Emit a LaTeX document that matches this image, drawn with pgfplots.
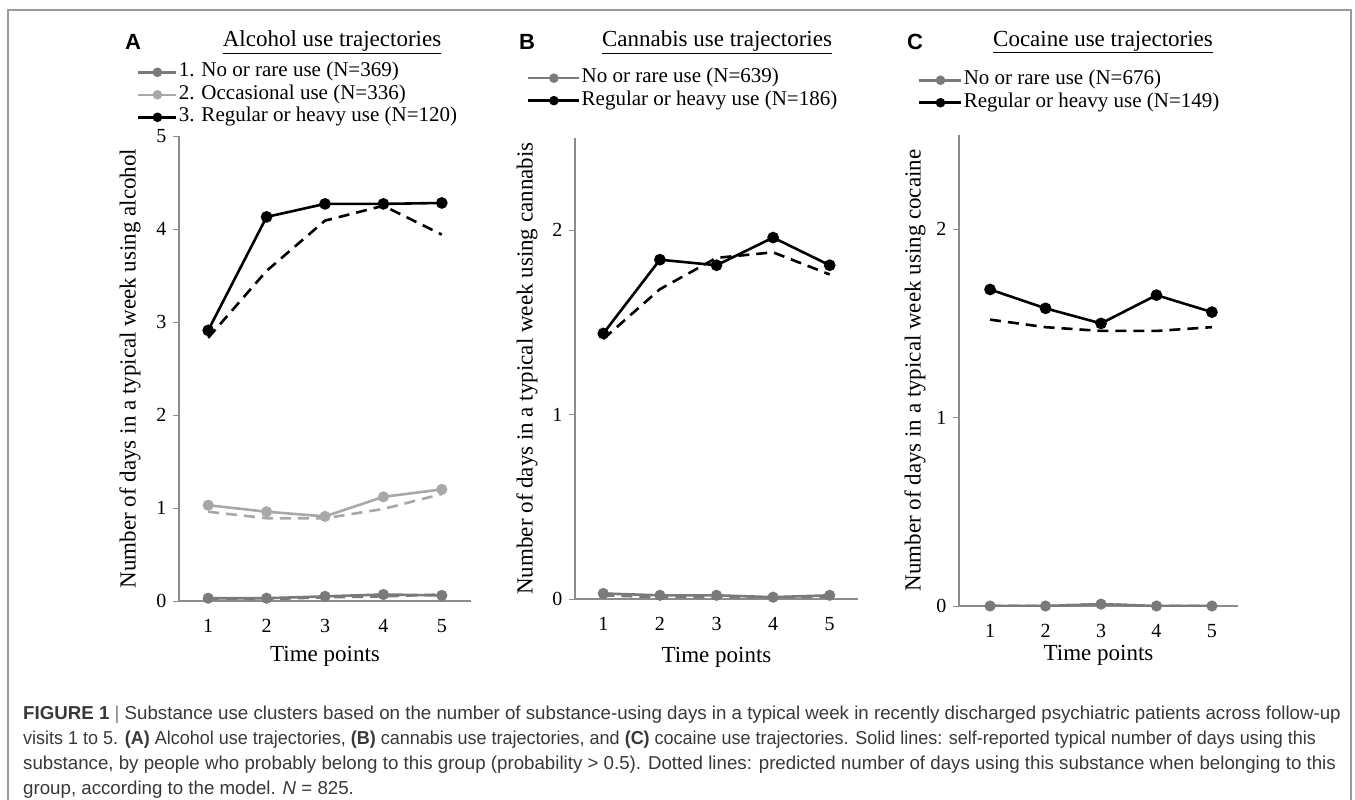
\documentclass[border=0pt]{standalone}
\usepackage{fontspec}
\setmainfont{Liberation Serif}
\newfontfamily\sansf{Liberation Sans}
\usepackage{pgfplots}
\pgfplotsset{compat=1.18}
\definecolor{rare}{HTML}{7A7A7A}
\definecolor{occ}{HTML}{A8A8A8}
\definecolor{axisgray}{HTML}{8C8C8C}
\definecolor{framegray}{HTML}{9A9A9A}
\definecolor{captext}{HTML}{383838}

\pgfplotsset{
  panel/.style={
    scale only axis,
    axis lines*=left,
    axis line style={axisgray, line width=1.3pt},
    ymin=0, xtick={1,2,3,4,5},
    tick align=outside,
    major tick length=6pt,
    ytick style={axisgray, line width=1pt},
    xtick style={draw=none},
    tick label style={font=\fontsize{20}{20}\selectfont},
    /pgf/number format/assume math mode=true,
    yticklabel style={xshift=-3pt},
    xticklabel style={yshift=-9pt},
    legend cell align=left,
    legend style={draw=none, fill=none, anchor=north west, font=\fontsize{21}{22}\selectfont,
      inner sep=0pt, row sep=1.5pt, nodes={inner sep=1pt, text height=14pt, text depth=5pt}},
  },
  ylab/.style={every axis y label/.style={at={(axis description cs:#1,0.5)}, rotate=90, anchor=center, font=\fontsize{23}{23}\selectfont}},
  xlab/.style={every axis x label/.style={at={(axis description cs:0.5,#1)}, anchor=center, font=\fontsize{23}{23}\selectfont}},
  reg/.style={black, line width=2.6pt, mark=*, mark size=4.5pt, mark options={solid}},
  regd/.style={black, line width=2.6pt, dash pattern=on 11pt off 7pt, no marks, forget plot},
  rar/.style={rare, line width=2.6pt, mark=*, mark size=4.2pt, mark options={solid}},
  rard/.style={rare, line width=2.6pt, dash pattern=on 11pt off 7pt, no marks, forget plot},
  occs/.style={occ, line width=2.6pt, mark=*, mark size=4.2pt, mark options={solid}},
  occd/.style={occ, line width=2.6pt, dash pattern=on 11pt off 7pt, no marks, forget plot},
}

\begin{document}
\begin{tikzpicture}
\path[use as bounding box] (0pt,0pt) rectangle (1355pt,-800pt);
\draw[framegray, line width=1.6pt] (8pt,-801pt) -- (8pt,-10pt) -- (1351pt,-10pt) -- (1351pt,-801pt);

% Panel headers
\node[font=\sansf\bfseries\fontsize{22}{22}\selectfont] at (133pt,-42pt) {A};
\node[font=\sansf\bfseries\fontsize{22}{22}\selectfont] at (527pt,-42pt) {B};
\node[font=\sansf\bfseries\fontsize{22}{22}\selectfont] at (915pt,-42pt) {C};
\node[font=\fontsize{23}{23}\selectfont] at (332pt,-42pt) {\underline{Alcohol use trajectories}};
\node[font=\fontsize{23}{23}\selectfont] at (717pt,-42pt) {\underline{Cannabis use trajectories}};
\node[font=\fontsize{23}{23}\selectfont] at (1103pt,-42pt) {\underline{Cocaine use trajectories}};

% Panel A
\begin{axis}[panel,
  at={(179pt,-601pt)}, anchor=south west,
  width=292pt, height=465pt,
  xmin=0.5, xmax=5.5, ymax=5, ytick={0,1,2,3,4,5},
  xlabel={Time points},
  ylabel={Number of days in a typical week using alcohol},
  ylab=-0.168, xlab=-0.12,
  legend style={at={(axis description cs:-0.144,1.160)}},
  legend image code/.code={\draw[mark repeat=2,mark phase=2,#1,mark size=3.4pt] plot coordinates {(0pt,0pt) (19pt,0pt) (38pt,0pt)};},
]
\addplot[rard] coordinates {(1,0.02) (2,0.02) (3,0.04) (4,0.05) (5,0.07)};
\addplot[occd] coordinates {(1,0.96) (2,0.89) (3,0.89) (4,0.99) (5,1.15)};
\addplot[regd] coordinates {(1,2.83) (2,3.55) (3,4.09) (4,4.25) (5,3.94)};
\addplot[rar] coordinates {(1,0.03) (2,0.03) (3,0.05) (4,0.07) (5,0.06)};
\addlegendentry{1. No or rare use (N=369)}
\addplot[occs] coordinates {(1,1.03) (2,0.96) (3,0.91) (4,1.12) (5,1.20)};
\addlegendentry{2. Occasional use (N=336)}
\addplot[reg] coordinates {(1,2.91) (2,4.13) (3,4.27) (4,4.27) (5,4.28)};
\addlegendentry{3. Regular or heavy use (N=120)}
\end{axis}

% Panel B
\begin{axis}[panel,
  at={(575pt,-599pt)}, anchor=south west,
  width=283pt, height=461pt,
  xmin=0.5, xmax=5.5, ymax=2.5, ytick={0,1,2},
  xlabel={Time points},
  ylabel={Number of days in a typical week using cannabis},
  ylab=-0.170, xlab=-0.126,
  legend style={at={(axis description cs:-0.170,1.153)}},
  legend image code/.code={\draw[mark repeat=2,mark phase=2,#1,mark size=3.4pt] plot coordinates {(0pt,0pt) (25.5pt,0pt) (51pt,0pt)};},
]
\addplot[rard] coordinates {(1,0.02) (2,0.01) (3,0.01) (4,0.01) (5,0.01)};
\addplot[regd] coordinates {(1,1.41) (2,1.68) (3,1.85) (4,1.88) (5,1.76)};
\addplot[rar] coordinates {(1,0.03) (2,0.02) (3,0.02) (4,0.01) (5,0.02)};
\addlegendentry{No or rare use (N=639)}
\addplot[reg] coordinates {(1,1.44) (2,1.84) (3,1.81) (4,1.96) (5,1.81)};
\addlegendentry{Regular or heavy use (N=186)}
\end{axis}

% Panel C
\begin{axis}[panel,
  at={(959pt,-606pt)}, anchor=south west,
  width=279pt, height=471pt,
  xmin=0.44, xmax=5.47, ymax=2.5, ytick={0,1,2},
  xlabel={Time points},
  ylabel={Number of days in a typical week using cocaine},
  ylab=-0.158, xlab=-0.104,
  legend style={at={(axis description cs:-0.147,1.139)}},
  legend image code/.code={\draw[mark repeat=2,mark phase=2,#1,mark size=3.4pt] plot coordinates {(0pt,0pt) (21pt,0pt) (42pt,0pt)};},
]
\addplot[rard] coordinates {(1,0.0) (2,0.0) (3,0.01) (4,0.0) (5,0.0)};
\addplot[regd] coordinates {(1,1.52) (2,1.48) (3,1.46) (4,1.46) (5,1.48)};
\addplot[rar] coordinates {(1,0.0) (2,0.0) (3,0.01) (4,0.0) (5,0.0)};
\addlegendentry{No or rare use (N=676)}
\addplot[reg] coordinates {(1,1.68) (2,1.58) (3,1.50) (4,1.65) (5,1.56)};
\addlegendentry{Regular or heavy use (N=149)}
\end{axis}

% Caption
\begin{scope}[every node/.style={anchor=base west, inner sep=0pt, text=captext, font=\sansf\fontsize{18.7}{25}\selectfont}]
\node at (23pt,-719pt) {\textbf{FIGURE 1} {\color{gray}|} Substance use clusters based on the number of substance-using days in a typical week in recently discharged psychiatric patients across follow-up};
\node at (23pt,-744pt) {\scalebox{0.962}[1]{visits 1 to 5. \textbf{(A)} Alcohol use trajectories, \textbf{(B)} cannabis use trajectories, and \textbf{(C)} cocaine use trajectories. Solid lines: self-reported typical number of days using this}};
\node at (23pt,-769pt) {substance, by people who probably belong to this group (probability > 0.5). Dotted lines: predicted number of days using this substance when belonging to this};
\node at (23pt,-794pt) {group, according to the model. \textit{N} = 825.};
\end{scope}
\end{tikzpicture}
\end{document}
